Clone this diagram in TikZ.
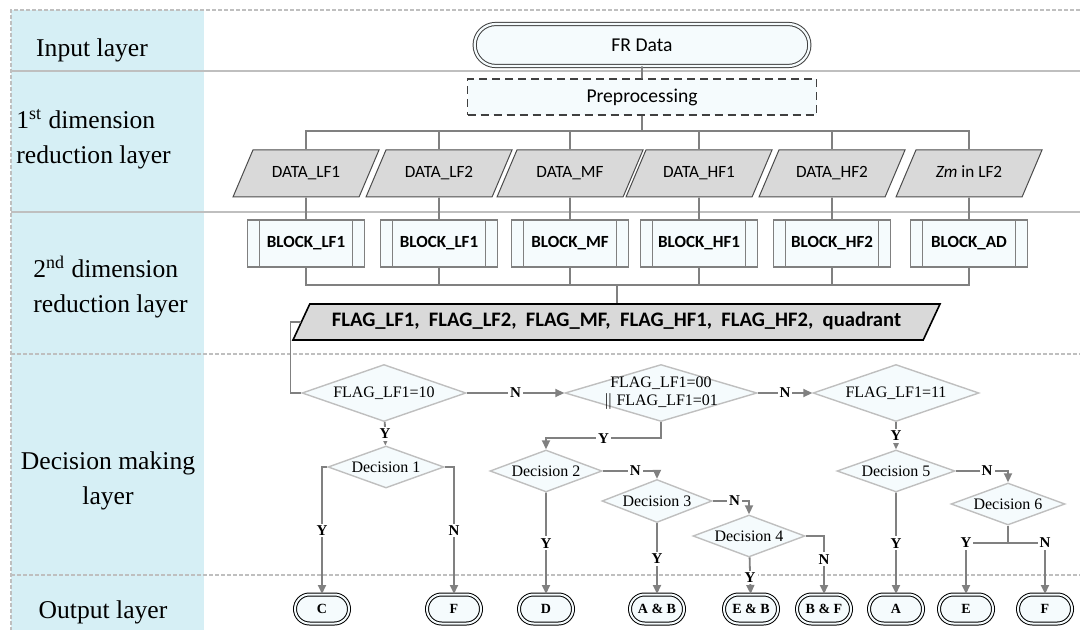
\documentclass[tikz,border=0pt]{standalone}
\usepackage{fontspec}
\setmainfont{Liberation Serif}
\setsansfont{Carlito}
\usepackage{tikz}
\usetikzlibrary{positioning, arrows.meta, shapes.geometric, shapes.misc}
\definecolor{layerblue}{HTML}{D6EFF5}
\definecolor{boxfill}{HTML}{F5FBFD}
\definecolor{datagray}{HTML}{D9D9D9}
\definecolor{linegray}{HTML}{808080}
\definecolor{rulegray}{HTML}{BFBFBF}
% zero-width text, so the diamond keeps its given size
\newcommand{\ztext}[1]{\makebox[0pt]{#1}}

\begin{document}
\begin{tikzpicture}[x=0.5pt, y=-0.5pt,
        layerlbl/.style={font=\fontsize{12.8}{17.5}\selectfont, align=left, inner sep=0pt},
        startbox/.style={rounded rectangle, draw=black!75, line width=0.5pt, double=boxfill, double distance=1.1pt, fill=boxfill, font=\sffamily\fontsize{9.8}{11}\selectfont, minimum width=174pt, minimum height=21pt},
        prepbox/.style={draw=black!75, line width=0.7pt, dash pattern=on 4pt off 2.5pt, fill=boxfill, font=\sffamily\fontsize{9.8}{11}\selectfont, minimum width=174.5pt, minimum height=18pt},
        databox/.style={trapezium, trapezium left angle=67, trapezium right angle=113, trapezium stretches body, draw=black!70, line width=0.5pt, fill=datagray, font=\sffamily\fontsize{8.6}{10}\selectfont, text height=6.5pt, text depth=2pt, inner xsep=1pt, inner ysep=7.5pt, minimum width=73pt},
        blockbox/.style={draw=linegray, line width=0.6pt, fill=boxfill, font=\sffamily\bfseries\fontsize{8.5}{10}\selectfont, minimum width=58.5pt, minimum height=23.5pt,
          path picture={\draw[linegray, line width=0.5pt] ([xshift=6pt]path picture bounding box.north west) -- ([xshift=6pt]path picture bounding box.south west)
            ([xshift=-6pt]path picture bounding box.north east) -- ([xshift=-6pt]path picture bounding box.south east);}},
        flagbox/.style={trapezium, trapezium left angle=65, trapezium right angle=115, trapezium stretches body, draw=black, line width=0.8pt, fill=datagray, font=\sffamily\bfseries\fontsize{10.3}{12}\selectfont, text height=7.5pt, text depth=2.5pt, inner xsep=1pt, inner ysep=4pt, minimum width=323.5pt},
        decision/.style={diamond, draw=rulegray, line width=0.7pt, fill=boxfill, inner sep=0pt, align=center, font=\fontsize{8}{9}\selectfont},
        outbox/.style={rounded rectangle, draw=black, line width=0.5pt, double=boxfill, double distance=1pt, fill=boxfill, font=\bfseries\fontsize{7}{8}\selectfont, minimum width=29pt, minimum height=14.5pt, inner sep=1pt},
        lbl/.style={font=\bfseries\fontsize{7.5}{8}\selectfont, fill=white, inner sep=1pt},
        conn/.style={draw=linegray, line width=0.9pt},
        arr/.style={conn, -{Triangle[length=4.5pt, width=4pt]}}]
  \useasboundingbox (0,0) rectangle (1080,630);
  % layers
  \fill[layerblue] (11,10) rectangle (204,630);
  \draw[rulegray, line width=0.6pt] (11,71) -- (1080,71) (11,212) -- (1080,212);
  \draw[rulegray, line width=0.7pt, dash pattern=on 2pt off 1pt] (11,354) -- (1080,354) (11,575) -- (1080,575);
  \draw[rulegray, line width=0.7pt, dash pattern=on 2pt off 1pt] (1080,10) -- (11,10) -- (11,630);
  \node[layerlbl, anchor=center] (linput) at (92,50) {Input layer};
  \node[layerlbl, anchor=west] (ldim1) at (16,139) {1\textsuperscript{st} dimension\\reduction layer};
  \node[layerlbl, anchor=west] (ldim2) at (33,287) {2\textsuperscript{nd} dimension\\reduction layer};
  \node[layerlbl, align=center] (ldec) at (108,481) {Decision making\\layer};
  \node[layerlbl, anchor=center] (lout) at (103,612) {Output layer};

  % input and first reduction
  \node[startbox] (frdata) at (642,45) {FR Data};
  \node[prepbox] (prep) at (642,97) {Preprocessing};
  \node[databox] (dlf1) at (306,173.5) {DATA\_LF1};
  \node[databox] (dlf2) at (439,173.5) {DATA\_LF2};
  \node[databox] (dmf) at (570,173.5) {DATA\_MF};
  \node[databox] (dhf1) at (699,173.5) {DATA\_HF1};
  \node[databox] (dhf2) at (832,173.5) {DATA\_HF2};
  \node[databox] (dzm) at (969,173.5) {\textit{Zm} in LF2};
  \coordinate (tbus) at (642,131);
  \draw[conn] (frdata) -- (prep);
  \draw[conn] (prep) -- (tbus);
  \foreach \d in {dlf1, dlf2, dmf, dhf1, dhf2, dzm}
    \draw[conn] (tbus) -| (\d.north);

  % second reduction
  \node[blockbox] (blf1) at (306,243.5) {BLOCK\_LF1};
  \node[blockbox] (blf2) at (439,243.5) {BLOCK\_LF1};
  \node[blockbox] (bmf) at (570,243.5) {BLOCK\_MF};
  \node[blockbox] (bhf1) at (699,243.5) {BLOCK\_HF1};
  \node[blockbox] (bhf2) at (832,243.5) {BLOCK\_HF2};
  \node[blockbox] (bad) at (969,243.5) {BLOCK\_AD};
  \foreach \d/\b in {dlf1/blf1, dlf2/blf2, dmf/bmf, dhf1/bhf1, dhf2/bhf2, dzm/bad}
    \draw[conn] (\d.south) -- (\b.north);
  \coordinate (bbus) at (617,285);
  \foreach \b in {blf1, blf2, bmf, bhf1, bhf2, bad}
    \draw[conn] (\b.south) |- (bbus);
  \node[flagbox] (flags) at (616.5,322) {FLAG\_LF1,\ \ FLAG\_LF2,\ \ FLAG\_MF,\ \ FLAG\_HF1,\ \ FLAG\_HF2,\ \ quadrant};
  \draw[conn] (bbus) -- (bbus |- flags.north);

  % decisions
  \node[decision, minimum width=82pt, minimum height=28.5pt] (q1) at (384,393) {\ztext{FLAG\_LF1=10}};
  \node[decision, minimum width=96pt, minimum height=28.5pt] (q2) at (661,393) {\ztext{FLAG\_LF1=00}\\\ztext{$\|$ FLAG\_LF1=01}};
  \node[decision, minimum width=83pt, minimum height=28.5pt] (q3) at (896,393) {\ztext{FLAG\_LF1=11}};
  \node[decision, minimum width=58pt, minimum height=21pt] (dec1) at (386,467) {\ztext{Decision 1}};
  \node[decision, minimum width=56pt, minimum height=21pt] (dec2) at (546,471) {\ztext{Decision 2}};
  \node[decision, minimum width=55pt, minimum height=21.5pt] (dec3) at (657,501) {\ztext{Decision 3}};
  \node[decision, minimum width=56pt, minimum height=21pt] (dec4) at (749,536) {\ztext{Decision 4}};
  \node[decision, minimum width=59pt, minimum height=21pt] (dec5) at (896,471) {\ztext{Decision 5}};
  \node[decision, minimum width=57pt, minimum height=21pt] (dec6) at (1008,504) {\ztext{Decision 6}};

  % outputs
  \node[outbox] (oC) at (322,609) {C};
  \node[outbox] (oF) at (454,609) {F};
  \node[outbox] (oD) at (546,609) {D};
  \node[outbox] (oAB) at (657,609) {A \& B};
  \node[outbox] (oEB) at (751,609) {E \& B};
  \node[outbox] (oBF) at (824,609) {B \& F};
  \node[outbox] (oA) at (896,609) {A};
  \node[outbox] (oE) at (966,609) {E};
  \node[outbox] (oFb) at (1045,609) {F};

  % connectors
  \draw[conn] (flags.west) -- ++(-10,0) |- (q1.west);
  \draw[arr] (q1) -- node[lbl]{N} (q2);
  \draw[arr] (q2) -- node[lbl]{N} (q3);
  \draw[arr] (q1) -- node[lbl]{Y} (dec1);
  \draw[arr] (q3) -- node[lbl]{Y} (dec5);
  \draw[arr] (q2.south) -- ++(0,16) -| node[lbl, pos=0.25]{Y} (dec2.north);
  \draw[arr] (dec1.west) -| node[lbl, pos=0.75]{Y} (oC);
  \draw[arr] (dec1.east) -| node[lbl, pos=0.75]{N} (oF);
  \draw[arr] (dec2) -- node[lbl]{Y} (oD);
  \draw[arr] (dec2.east) -| node[lbl, pos=0.3]{N} (dec3.north);
  \draw[arr] (dec3) -- node[lbl]{Y} (oAB);
  \draw[arr] (dec3.east) -| node[lbl, pos=0.3]{N} (dec4.north);
  \draw[arr] (dec4) -- node[lbl, pos=0.55]{Y} (oEB);
  \draw[arr] (dec4.east) -| node[lbl, pos=0.7]{N} (oBF);
  \draw[arr] (dec5) -- node[lbl]{Y} (oA);
  \draw[arr] (dec5.east) -| node[lbl, pos=0.3]{N} (dec6.north);
  \draw[conn] (dec6.south) -- ++(0,17) coordinate (d6j);
  \draw[arr] (d6j) -| node[lbl, pos=0.5]{Y} (oE);
  \draw[arr] (d6j) -| node[lbl, pos=0.5]{N} (oFb);
\end{tikzpicture}
\end{document}
